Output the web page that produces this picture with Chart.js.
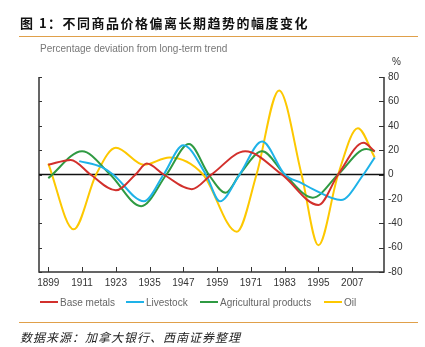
<!DOCTYPE html>
<html>
<head>
<meta charset="utf-8">
<script src="https://cdn.jsdelivr.net/npm/chart.js@4.4.1/dist/chart.umd.min.js"></script>
<style>
  body { margin: 0; background: #fff; }
  #wrap { position: relative; width: 425px; height: 347px; overflow: hidden; }
  #chart { position: absolute; left: 0; top: 0; }
  .txt { position: absolute; white-space: nowrap; }
  #title { left: 20px; top: 13px; font: bold 13px "Noto Sans CJK SC", sans-serif; letter-spacing: 1.5px; color: #111; }
  .rule { position: absolute; left: 19px; width: 399px; height: 1px; background: #e0a04a; }
  #sub { left: 40px; top: 43px; font: 10px "Liberation Sans", Arial, sans-serif; color: #777; }
  #pct { left: 392px; top: 56px; font: 10px "Liberation Sans", Arial, sans-serif; color: #333; }
  #legend { left: 0; top: 297px; font: 10px "Liberation Sans", Arial, sans-serif; color: #666; }
  #legend span.item { position: absolute; top: 0; white-space: nowrap; }
  #legend i { display: inline-block; width: 18px; height: 2px; vertical-align: middle; margin-right: 2px; position: relative; top: -1px; }
  #source { left: 20px; top: 328px; font: italic 12px "Noto Sans CJK SC", sans-serif; letter-spacing: 1px; color: #222; }
</style>
</head>
<body>
<div id="wrap">
  <canvas id="chart" width="425" height="347"></canvas>
  <div class="txt" id="title">图 1：不同商品价格偏离长期趋势的幅度变化</div>
  <div class="rule" style="top:36px"></div>
  <div class="txt" id="sub">Percentage deviation from long-term trend</div>
  <div class="txt" id="pct">%</div>
  <div class="txt" id="legend"></div>
  <div class="rule" style="top:322px"></div>
  <div class="txt" id="source">数据来源：加拿大银行、西南证券整理</div>
</div>
<script>
// year ticks along the bottom, value ticks on the right
const yearTicks = [1899, 1911, 1923, 1935, 1947, 1959, 1971, 1983, 1995, 2007];
const valueTicks = [-80, -60, -40, -20, 0, 20, 40, 60, 80];

// each series is kept as turning points (peaks, troughs, zero crossings)
const baseMetalsYears = [1899, 1907, 1914, 1923, 1930, 1934, 1940, 1950, 1957, 1969, 1982, 1995, 2002, 2011, 2015];
const baseMetals = [8, 12, 0, -13, 0, 9, 0, -12, 0, 19, 0, -25, 0, 26, 19];

const livestockYears = [1910, 1918, 1922, 1933, 1940, 1947, 1955, 1960, 1967, 1975, 1983, 1989, 1993, 2003, 2011, 2015];
const livestock = [11, 6, 0, -22, 0, 24, 0, -22, 0, 27, 0, -7, -12, -21, 0, 14];

const agriYears = [1899, 1911, 1921, 1932, 1941, 1949, 1956, 1962, 1967, 1975, 1983, 1993, 2002, 2012, 2015];
const agri = [-3, 19, 0, -26, 0, 25, 0, -15, 0, 19, 0, -19, 0, 21, 19];

const oilYears = [1899, 1908, 1916, 1923, 1933, 1942, 1954, 1966, 1973, 1981, 1989, 1995, 2002, 2009, 2015];
const oil = [9, -45, 0, 22, 8, 14, 0, -47, 0, 69, 0, -58, 0, 38, 14];

const seriesNames = ['Base metals', 'Livestock', 'Agricultural products', 'Oil'];
const seriesColors = ['#d2302c', '#1eb2e8', '#2f9a42', '#fdc800'];

const pts = (xs, ys) => xs.map((x, i) => ({ x: x, y: ys[i] }));
const allSeries = [
  pts(baseMetalsYears, baseMetals),
  pts(livestockYears, livestock),
  pts(agriYears, agri),
  pts(oilYears, oil)
];

// legend built from the series names
const legendX = [40, 126, 200, 324];
const legend = document.getElementById('legend');
seriesNames.forEach((name, i) => {
  const item = document.createElement('span');
  item.className = 'item';
  item.style.left = legendX[i] + 'px';
  item.innerHTML = '<i style="background:' + seriesColors[i] + '"></i>' + name;
  legend.appendChild(item);
});

// frame, zero line and inward tick marks
const framePlugin = {
  id: 'frame',
  beforeDatasetsDraw(chart) {
    const { ctx, chartArea: a, scales: { x, y } } = chart;
    ctx.save();
    ctx.strokeStyle = '#333';
    ctx.lineWidth = 1.5;
    ctx.beginPath();
    ctx.moveTo(a.left, a.top);
    ctx.lineTo(a.left, a.bottom);
    ctx.lineTo(a.right, a.bottom);
    ctx.lineTo(a.right, a.top);
    ctx.stroke();
    ctx.lineWidth = 1;
    ctx.beginPath();
    valueTicks.forEach(v => {
      const py = Math.round(y.getPixelForValue(v)) + 0.5;
      ctx.moveTo(a.left, py); ctx.lineTo(a.left + 3, py);
      ctx.moveTo(a.right - 5, py); ctx.lineTo(a.right, py);
    });
    yearTicks.forEach(t => {
      const px = Math.round(x.getPixelForValue(t)) + 0.5;
      ctx.moveTo(px, a.bottom); ctx.lineTo(px, a.bottom - 5);
    });
    ctx.stroke();
    const zy = y.getPixelForValue(0);
    ctx.strokeStyle = '#111';
    ctx.lineWidth = 1.5;
    ctx.beginPath();
    ctx.moveTo(a.left, zy); ctx.lineTo(a.right, zy);
    ctx.stroke();
    ctx.restore();
  }
};

new Chart(document.getElementById('chart'), {
  type: 'line',
  data: {
    datasets: allSeries.map((d, i) => ({
      label: seriesNames[i],
      data: d,
      borderColor: seriesColors[i],
      borderWidth: 2,
      pointRadius: 0,
      fill: false,
      cubicInterpolationMode: 'monotone'
    }))
  },
  options: {
    responsive: false,
    animation: false,
    devicePixelRatio: 1,
    layout: { padding: { left: 39, top: 77, right: 0, bottom: 55 } },
    plugins: { legend: { display: false }, tooltip: { enabled: false } },
    scales: {
      x: {
        type: 'linear',
        min: 1895.7,
        max: 2018.3,
        afterBuildTicks: s => { s.ticks = yearTicks.map(v => ({ value: v })); },
        afterFit: s => { s.height = 20; },
        grid: { display: false, drawTicks: false },
        border: { display: false },
        ticks: {
          autoSkip: false,
          maxRotation: 0,
          padding: 5,
          color: '#333',
          font: { family: 'Liberation Sans', size: 10 },
          callback: v => String(v)
        }
      },
      y: {
        position: 'right',
        min: -80,
        max: 80,
        afterBuildTicks: s => { s.ticks = valueTicks.map(v => ({ value: v })); },
        afterFit: s => { s.width = 41; },
        grid: { display: false, drawTicks: false },
        border: { display: false },
        ticks: {
          padding: 4,
          color: '#333',
          font: { family: 'Liberation Sans', size: 10 },
          callback: v => String(v)
        }
      }
    }
  },
  plugins: [framePlugin]
});
</script>
</body>
</html>
